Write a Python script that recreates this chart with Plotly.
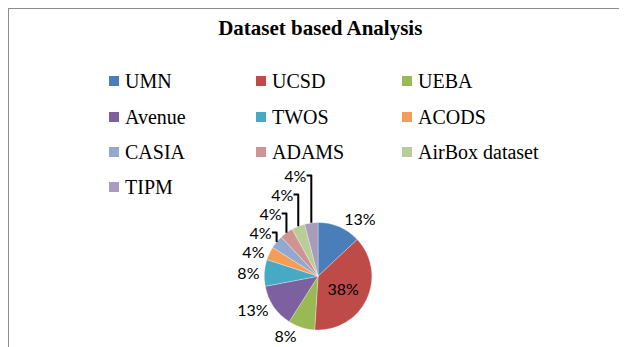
import plotly.graph_objects as go

labels = ["UMN", "UCSD", "UEBA", "Avenue", "TWOS", "ACODS", "CASIA", "ADAMS", "AirBox dataset", "TIPM"]
values = [13, 38, 8, 13, 8, 4, 4, 4, 4, 4]
colors = ["#4A7EBB", "#BE4B48", "#98B954", "#7D60A0", "#46AAC5", "#F59D56", "#92A9CF", "#D19392", "#B9CD96", "#A99BBD"]
positions = ["outside", "inside", "outside", "outside", "outside", "outside", "outside", "outside", "outside", "outside"]

W, H = 627, 347
lbl_font = dict(family="Lato, Open Sans, sans-serif", size=16, color="#000000")
serif = "Liberation Serif, Times New Roman, serif"

fig = go.Figure(go.Pie(
    labels=labels, values=values, sort=False, direction="clockwise", rotation=0,
    marker=dict(colors=colors, line=dict(color="rgba(255,255,255,0.6)", width=0.5)),
    texttemplate="%{percent:.0%}", textposition=positions,
    textfont=lbl_font, outsidetextfont=lbl_font, insidetextfont=lbl_font,
    domain=dict(x=[0.292, 0.697], y=[0.072, 0.382]),
    showlegend=False,
    hoverinfo="label+percent",
))

# legend laid out as 3 columns of colour squares + labels
col_x = [101, 248, 394]
row_y = [73, 109, 144, 179]
sq = 10
shapes = [dict(type="rect", xref="paper", yref="paper", x0=0, y0=0, x1=1, y1=1,
               line=dict(color="#8C8C8C", width=2))]
annotations = []
for i, (lab, col) in enumerate(zip(labels, colors)):
    cx = col_x[i % 3]
    cy = row_y[i // 3]
    shapes.append(dict(type="rect", xref="paper", yref="paper",
                       x0=cx / W, x1=(cx + sq) / W,
                       y0=1 - (cy + sq / 2) / H, y1=1 - (cy - sq / 2) / H,
                       fillcolor=col, line=dict(width=0)))
    annotations.append(dict(text=lab, xref="paper", yref="paper", x=(cx + sq + 4) / W, y=1 - cy / H,
                            xanchor="left", yanchor="middle", showarrow=False,
                            font=dict(family=serif, size=20, color="#000000")))

fig.update_layout(
    width=W, height=H,
    margin=dict(l=0, r=0, t=0, b=0),
    paper_bgcolor="white",
    title=dict(text="<b>Dataset based Analysis</b>", x=0.498, xanchor="center", y=1 - 20 / H, yanchor="middle",
               font=dict(family=serif, size=21, color="#000000")),
    shapes=shapes,
    annotations=annotations,
)

fig.write_html("out.html")
